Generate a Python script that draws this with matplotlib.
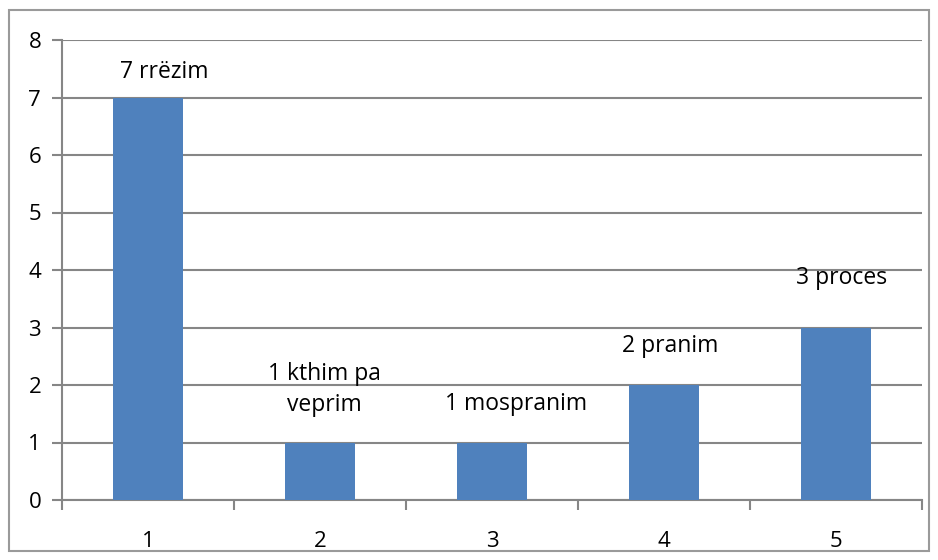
import matplotlib
matplotlib.use("Agg")
import matplotlib.pyplot as plt
import numpy as np

categories = ["1", "2", "3", "4", "5"]
values = [7, 1, 1, 2, 3]
labels = ["7 rrëzim", "1 kthim pa\nveprim", "1 mospranim", "2 pranim", "3 proces"]
# label offsets from bar top, in pixels (manually placed in the original)
label_dx = [16, 4, 24, 6, 6]
label_dy = [25, 53, 38, 39, 49]

plt.rcParams['font.family'] = ['Open Sans', 'DejaVu Sans']

fig = plt.figure(figsize=(9.38, 5.6), dpi=100)
ax = fig.add_axes([62/938, 60/560, 860/938, 460/560])

gray = '#868686'
x = np.arange(len(categories))
ax.bar(x, values, width=0.41, color='#4F81BD', zorder=3)

ax.set_xlim(-0.5, len(categories) - 0.5)
ax.set_ylim(0, 8)
ax.set_yticks(range(0, 9))
ax.yaxis.grid(True, color=gray, linewidth=1.5, zorder=0)

# category labels centred, ticks at the boundaries
ax.set_xticks(x)
ax.set_xticklabels(categories)
ax.tick_params(axis='x', which='major', length=0, pad=22, labelsize=16)
ax.set_xticks(np.arange(-0.5, len(categories)), minor=True)
ax.tick_params(axis='x', which='minor', length=7, width=1.5, color=gray)
ax.tick_params(axis='y', length=7, width=1.5, color=gray, pad=8, labelsize=16)

for side in ['top', 'right']:
    ax.spines[side].set_visible(False)
for side in ['left', 'bottom']:
    ax.spines[side].set_color(gray)
    ax.spines[side].set_linewidth(1.5)

for i, (v, lab) in enumerate(zip(values, labels)):
    ax.annotate(lab, xy=(x[i], v), xytext=(label_dx[i], label_dy[i]),
                textcoords='offset pixels', ha='center', va='center',
                fontsize=16.5, linespacing=1.4)

# outer chart border
fig.patches.append(plt.Rectangle((9/938, 1 - 551/560), 920/938, 541/560,
                                 transform=fig.transFigure, fill=False,
                                 edgecolor='#9a9a9a', linewidth=1.5))

fig.savefig("out.png", dpi=100)
